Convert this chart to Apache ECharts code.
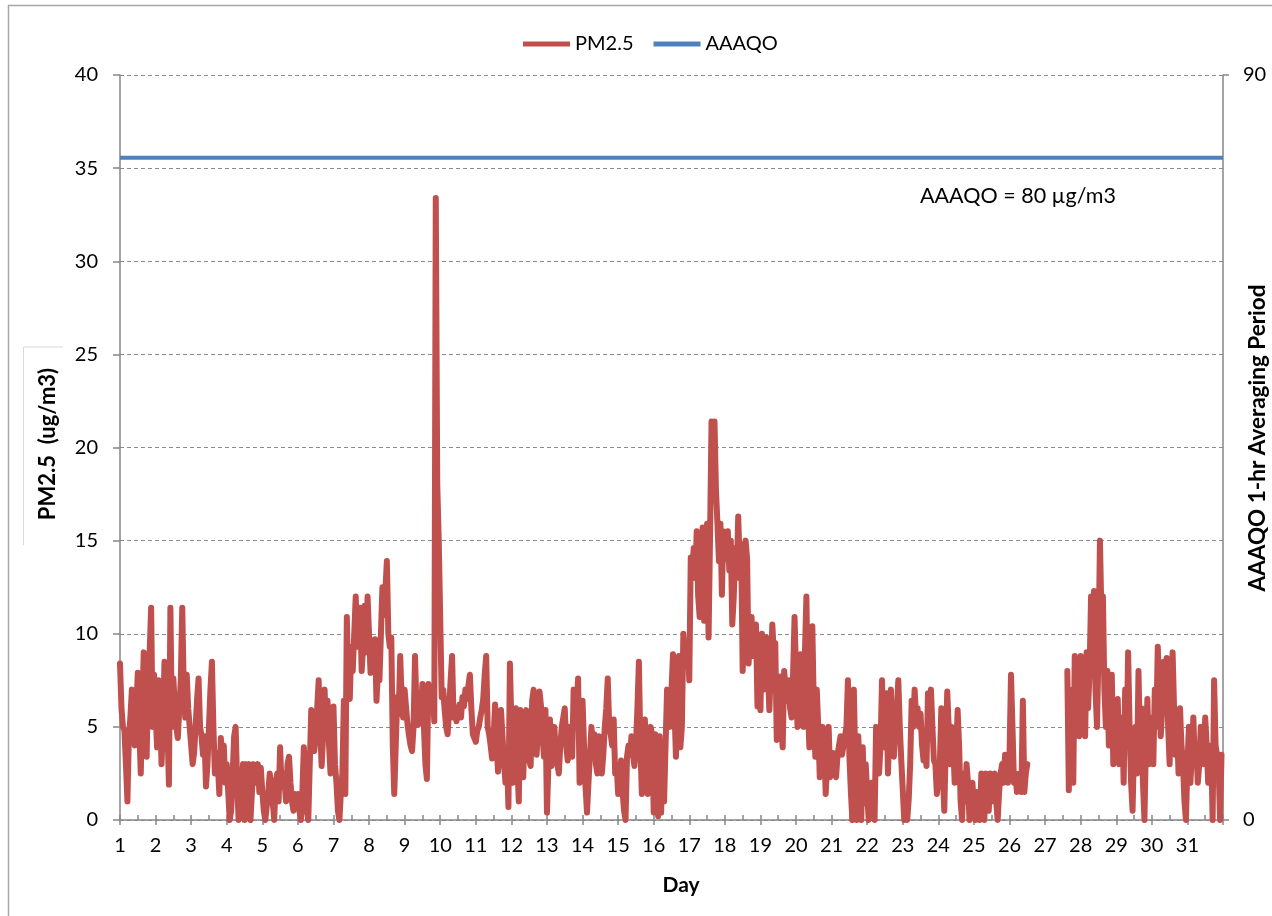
<!DOCTYPE html>
<html>
<head>
<meta charset="utf-8">
<script src="https://cdn.jsdelivr.net/npm/echarts@6/dist/echarts.min.js"></script>
<style>
  html, body { margin: 0; padding: 0; background: #ffffff; }
  #chart { width: 1272px; height: 916px; }
</style>
</head>
<body>
<div id="chart"></div>
<script>
// Day labels shown along the bottom axis
const dayLabels = [1, 2, 3, 4, 5, 6, 7, 8, 9, 10, 11, 12, 13, 14, 15, 16,
                   17, 18, 19, 20, 21, 22, 23, 24, 25, 26, 27, 28, 29, 30, 31];

// Hourly PM2.5 (ug/m3), 24 values per day starting at day 1, hour 0; null = no record
const pm25Hourly = [
  /* 1 */  8.4, 6, 5, 4.8, 3, 1, 4.5, 5.5, 7, 5, 4, 6, 7.9, 5, 2.5, 6, 9, 5.5, 3.4, 8.2, 9, 11.4, 5, 7.8,
  /* 2 */  7.9, 3.9, 7.5, 6, 3, 5, 8.5, 7, 5, 1.9, 11.4, 5, 7.6, 6, 5, 4.4, 6, 7.5, 11.4, 7, 5.5, 7.8, 6, 5,
  /* 3 */  4, 3, 3.6, 5, 6.5, 7.6, 5, 4.5, 3.5, 4.5, 1.8, 3, 5, 7, 8.5, 5, 2.5, 3.6, 3, 1.4, 4.4, 3.5, 4, 2,
  /* 4 */  3, 1.5, 0, 0.5, 2.5, 4.5, 5, 2, 0, 0.5, 2, 3, 0, 3, 2, 3, 0, 0, 3, 2.5, 2, 3, 1.5, 2.8,
  /* 5 */  1.5, 0.5, 0, 0, 1.5, 2.5, 2.5, 1, 0, 2, 2.5, 1, 3.9, 1.8, 2.5, 2, 1, 3, 3.4, 2, 1, 0.5, 1.4, 1,
  /* 6 */  1.4, 0.5, 0, 1.5, 3.9, 3.9, 0.5, 0, 3, 5.9, 4.5, 3.7, 4.5, 6, 7.5, 5, 2.9, 4.5, 7, 5, 6.4, 4, 2.5, 4.5,
  /* 7 */  6.1, 3, 2, 0.5, 0, 1.5, 2.5, 6.4, 1.4, 10.9, 7, 6.5, 9.3, 8, 10, 12, 9.3, 10, 11.4, 8, 9.3, 11.5, 9, 12,
  /* 8 */  12, 7.9, 9.5, 8, 9.7, 6.4, 8, 7.5, 10, 12.5, 11, 12.3, 13.9, 10, 9.3, 9.8, 4, 1.4, 4, 6.6, 5.7, 8.8, 6.5, 5.5,
  /* 9 */  7, 6, 5.1, 4.5, 4, 3.7, 5, 8.8, 6, 5.1, 6.8, 6, 7.3, 5, 3, 2.2, 7.3, 6, 6.5, 7, 5.3, 33.4, 18, 15,
  /* 10 */ 14.9, 6.6, 7, 5.9, 5, 4.6, 6, 7.5, 8.8, 5.5, 6, 5.3, 5.8, 6.2, 5.5, 6.6, 6.1, 7, 6.5, 7.2, 7.8, 6, 4.6, 4.4,
  /* 11 */ 4.2, 4.8, 5, 5.5, 5.9, 6.5, 7.8, 8.8, 5, 4.6, 4, 3.3, 4.5, 6.2, 4, 2.6, 4, 5.9, 4.5, 3.1, 2, 3.5, 0.7, 8.4,
  /* 12 */ 8.4, 2, 4, 6, 3, 1, 5.9, 3.5, 2.3, 5.2, 5.9, 4, 3.2, 2.9, 6.4, 7, 4.2, 3.5, 5, 6.9, 6.1, 4.5, 3.4, 5.9,
  /* 13 */ 0.4, 3, 5.4, 2.9, 4, 5, 3.5, 3, 2.5, 4, 5, 5.5, 6, 4, 3.2, 5, 4.5, 3.4, 7, 5, 6, 7.6, 2, 4,
  /* 14 */ 6.4, 4, 1.8, 0.4, 2, 3.5, 5, 4, 4.6, 3, 2.5, 4.5, 3, 2.5, 3.5, 5, 6, 7.6, 5, 4.6, 4, 5.4, 2.5, 3,
  /* 15 */ 1.4, 2, 3.2, 1.5, 0.5, 0, 3.4, 4, 3.5, 4.5, 3.5, 2.9, 4, 6, 8.5, 4, 1.4, 3, 5.4, 4, 1.4, 3, 5, 4.5,
  /* 16 */ 0.4, 4.6, 3, 0.2, 4.5, 0.4, 3.4, 1, 4, 7, 5.5, 5, 7, 8.9, 6, 3.4, 6, 8.8, 3.9, 5, 10, 8.8, 9, 9.5,
  /* 17 */ 7.5, 14.1, 13.5, 14.6, 13, 15.5, 12, 10.9, 13, 15.7, 10.7, 12.5, 15.9, 9.8, 15.2, 21.4, 20, 21.4, 17.7, 15.9, 13.9, 15.9, 12.1, 15.5,
  /* 18 */ 15.5, 14, 15.5, 13.4, 15, 10.5, 12, 14.6, 13, 16.3, 13.8, 14.8, 8, 10, 15, 14, 8.4, 10, 10.9, 8.8, 10, 10.5, 6.1, 8,
  /* 19 */ 5.9, 10, 7, 9, 9.8, 8, 5.9, 8, 10.5, 9, 9.5, 4.3, 6, 7.7, 5, 3.9, 8, 7, 6.4, 7.5, 6, 5.5, 7.8, 10.9,
  /* 20 */ 10.9, 5, 7, 8.9, 6, 5, 9, 12, 6, 3.9, 8, 10.4, 6, 3.4, 7, 5, 2.3, 4, 5, 4, 1.4, 3, 5, 2.3,
  /* 21 */ 2.3, 3.6, 2.5, 2.3, 3.5, 4, 4.5, 3.5, 3.6, 4.5, 5, 7.5, 3.4, 1.5, 0, 7, 3, 0, 4.5, 2, 0, 3.9, 0.9, 3,
  /* 22 */ 3, 0, 1, 2, 1, 0, 5, 3, 2.5, 4, 7.5, 3.9, 5, 6.8, 2.5, 5, 7, 4, 3.4, 5, 6, 7.5, 5, 3.2,
  /* 23 */ 3.2, 0, 0.5, 0, 1.1, 3, 6.4, 5, 7, 5.5, 6, 5, 5.7, 4, 3.2, 4, 2.9, 6.8, 5, 7, 5, 3.2, 3, 1.4,
  /* 24 */ 1.4, 3, 6, 2.5, 0.5, 4, 6.9, 7, 3, 5, 4, 2, 3.5, 5.9, 4, 1, 0, 2.5, 1, 3, 2, 0, 1.5, 2,
  /* 25 */ 0.5, 0, 1.5, 0.5, 0, 2.5, 1, 0, 2.5, 2, 0.5, 2.5, 1, 2, 2.5, 1, 0, 1.5, 2.5, 3, 2, 3.5, 3, 2,
  /* 26 */ 3.5, 7.8, 5, 2, 2.5, 1.5, 2, 2.5, 1.5, 6.4, 1.5, 2.5, 3, null, null, null, null, null, null, null, null, null, null, null,
  /* 27 */ null, null, null, null, null, null, null, null, null, null, null, null, null, null, null, 8, 1.6, 7, 4, 2, 8.8, 5, 7, 4.5,
  /* 28 */ 8.8, 5, 7, 4.5, 9, 6, 8, 12, 10, 12.3, 7, 5, 9, 15, 11, 12, 7, 5, 8, 4, 5, 7.8, 3, 5,
  /* 29 */ 5, 6.5, 3, 4, 5.5, 2, 7, 4, 9, 5, 2, 0.5, 4, 5, 2.5, 8, 4, 6, 2, 0, 4, 6.5, 3, 5,
  /* 30 */ 5.5, 3, 7, 5, 9.3, 7, 4.5, 6, 8.5, 6, 8.7, 5, 3, 7, 9, 6, 3.5, 5, 2.5, 6, 4, 3, 1, 0,
  /* 31 */ 3, 5, 2, 3.5, 5.5, 3, 4, 2, 3, 5, 4, 3, 5.5, 4, 2, 3, 4, 0, 7.5, 4, 3.5, 3, 0, 3.5
];

// Ambient air quality objective, 1-hr averaging period (ug/m3), on the right-hand axis
const aaaqoLimit = 80;
const aaaqoSpan = [1, 32];

const leftTicks = { min: 0, max: 40, step: 5 };
const rightTicks = { min: 0, max: 90, step: 90 };

const FONT = 'Lato, "Open Sans", "Noto Sans", sans-serif';
const RED = '#C0504D';
const BLUE = '#4F81BD';
const AXIS_GREY = '#868686';

const pmSeries = pm25Hourly.map((v, i) => [dayLabels[0] + i / 24, v]);
const limitSeries = aaaqoSpan.map(d => [d, aaaqoLimit]);

const chart = echarts.init(document.getElementById('chart'), null, { renderer: 'canvas' });

chart.setOption({
  animation: false,
  backgroundColor: '#ffffff',
  textStyle: { fontFamily: FONT },
  legend: {
    top: 29,
    left: 518,
    itemWidth: 47,
    itemHeight: 5,
    itemGap: 20,
    icon: 'rect',
    textStyle: { fontFamily: FONT, fontSize: 20, color: '#000' },
    data: ['PM2.5', 'AAAQO']
  },
  grid: { left: 120, right: 49, top: 75, bottom: 96, containLabel: false },
  xAxis: [
    {
      type: 'value',
      min: 1, max: 32, interval: 1,
      axisLine: { show: true, lineStyle: { color: AXIS_GREY, width: 1.5 } },
      axisTick: { show: true, length: 5, lineStyle: { color: AXIS_GREY, width: 1.5 } },
      axisLabel: {
        margin: 16, fontSize: 20, color: '#000', fontFamily: FONT,
        formatter: v => (dayLabels.indexOf(v) >= 0 ? String(v) : '')
      },
      splitLine: { show: false }
    },
    {
      type: 'value',
      position: 'bottom',
      min: 1, max: 32, interval: 0.5,
      axisLine: { show: false },
      axisTick: { show: true, inside: true, length: 5, lineStyle: { color: AXIS_GREY, width: 1.5 } },
      axisLabel: { show: false },
      splitLine: { show: false }
    }
  ],
  yAxis: [
    {
      type: 'value',
      min: leftTicks.min, max: leftTicks.max, interval: leftTicks.step,
      axisLine: { show: true, lineStyle: { color: AXIS_GREY, width: 1.5 } },
      axisTick: { show: true, length: 7, lineStyle: { color: AXIS_GREY, width: 1.5 } },
      axisLabel: { margin: 22, fontSize: 20, color: '#000', fontFamily: FONT },
      splitLine: { show: true, lineStyle: { color: '#8c8c8c', type: [4, 3], width: 1 } }
    },
    {
      type: 'value',
      position: 'right',
      min: rightTicks.min, max: rightTicks.max, interval: rightTicks.step,
      axisLine: { show: true, lineStyle: { color: AXIS_GREY, width: 1.5 } },
      axisTick: { show: true, length: 6, lineStyle: { color: AXIS_GREY, width: 1.5 } },
      axisLabel: { margin: 20, fontSize: 20, color: '#000', fontFamily: FONT },
      splitLine: { show: false }
    }
  ],
  series: [
    {
      name: 'PM2.5',
      type: 'line',
      xAxisIndex: 0,
      yAxisIndex: 0,
      data: pmSeries,
      showSymbol: false,
      connectNulls: false,
      color: RED,
      lineStyle: { color: RED, width: 6, join: 'round', cap: 'round' },
      z: 3
    },
    {
      name: 'AAAQO',
      type: 'line',
      xAxisIndex: 0,
      yAxisIndex: 1,
      data: limitSeries,
      showSymbol: false,
      color: BLUE,
      lineStyle: { color: BLUE, width: 4 },
      z: 2
    }
  ],
  graphic: [
    {
      type: 'rect',
      silent: true,
      shape: { x: 8.5, y: 5.5, width: 1400, height: 1000 },
      style: { fill: 'none', stroke: '#a6a6a6', lineWidth: 1.5 }
    },
    {
      type: 'polyline',
      silent: true,
      shape: { points: [[63, 347], [23.5, 347], [23.5, 545]] },
      style: { fill: 'none', stroke: '#d9d9d9', lineWidth: 1 }
    },
    {
      type: 'text',
      silent: true,
      x: 48, y: 444,
      rotation: Math.PI / 2,
      style: {
        text: 'PM2.5  (ug/m3)',
        fontFamily: FONT, fontSize: 22, fontWeight: 'bold', fill: '#000',
        textAlign: 'center', textVerticalAlign: 'middle'
      }
    },
    {
      type: 'text',
      silent: true,
      x: 1258, y: 438,
      rotation: Math.PI / 2,
      style: {
        text: 'AAAQO 1-hr Averaging Period',
        fontFamily: FONT, fontSize: 22.5, fontWeight: 'bold', fill: '#000',
        textAlign: 'center', textVerticalAlign: 'middle'
      }
    },
    {
      type: 'text',
      silent: true,
      x: 681, y: 885,
      style: {
        text: 'Day',
        fontFamily: FONT, fontSize: 21, fontWeight: 'bold', fill: '#000',
        textAlign: 'center', textVerticalAlign: 'middle'
      }
    },
    {
      type: 'text',
      silent: true,
      x: 920, y: 196,
      style: {
        text: 'AAAQO = ' + aaaqoLimit + ' µg/m3',
        fontFamily: FONT, fontSize: 21.5, fill: '#000',
        textAlign: 'left', textVerticalAlign: 'middle'
      }
    }
  ]
});
</script>
</body>
</html>
